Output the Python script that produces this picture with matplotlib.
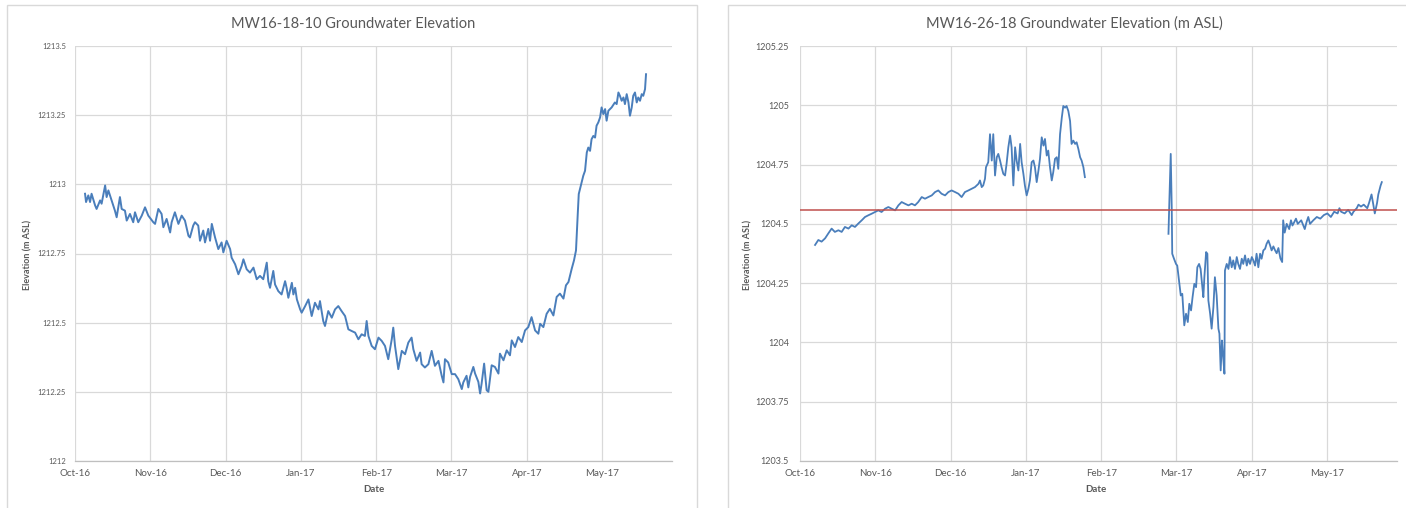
import numpy as np
import matplotlib
matplotlib.use("Agg")
import matplotlib.pyplot as plt
import matplotlib.ticker as mticker
from matplotlib.patches import Rectangle

plt.rcParams['font.family'] = ['Lato', 'DejaVu Sans']

# logger records, x = days after 5 Oct 2016
START = np.datetime64('2016-10-05')
AXIS_DAYS = 238
TICK_STEP = 30

# MW16-18-10
days_1810 = [
    4.0, 4.4, 5.3, 6.0, 6.6, 8.0, 8.6, 10.0, 10.6, 12.0,
    12.6, 13.3, 14.6, 15.9, 16.6, 17.9, 18.6, 19.9, 20.6, 21.9,
    23.2, 23.9, 25.2, 26.6, 27.9, 29.2, 31.2, 31.9, 33.2, 34.5,
    35.2, 36.5, 37.9, 38.5, 39.8, 41.2, 42.5, 43.8, 45.2, 45.8,
    47.1, 47.8, 49.1, 49.8, 51.1, 51.8, 53.1, 53.8, 54.5, 55.8,
    57.1, 58.4, 59.1, 60.4, 61.8, 62.4, 63.8, 65.1, 66.4, 67.1,
    68.4, 69.7, 71.1, 72.4, 73.7, 75.0, 76.4, 77.0, 77.7, 79.0,
    79.7, 81.0, 82.3, 83.7, 84.3, 85.0, 86.4, 87.0, 87.7, 88.4,
    89.7, 90.3, 91.7, 93.0, 94.3, 95.6, 97.0, 97.6, 98.9, 99.6,
    100.9, 102.3, 103.6, 104.9, 106.2, 107.6, 108.9, 110.2, 111.6, 112.9,
    114.2, 115.5, 116.2, 116.9, 118.2, 119.5, 120.9, 122.2, 123.5, 124.8,
    126.2, 126.8, 127.5, 128.8, 130.2, 131.5, 132.8, 134.1, 134.8, 136.1,
    137.5, 138.1, 139.4, 140.8, 142.1, 143.4, 144.8, 146.1, 146.8, 147.4,
    148.7, 150.1, 151.4, 152.7, 154.1, 154.7, 156.0, 156.7, 157.4, 158.7,
    159.4, 160.7, 161.4, 162.0, 163.0, 164.0, 164.7, 166.0, 167.3, 168.7,
    169.3, 170.7, 172.0, 173.3, 174.0, 175.3, 176.6, 178.0, 179.3, 180.6,
    181.9, 183.3, 184.6, 185.3, 186.6, 187.9, 189.2, 190.6, 191.9, 193.2,
    194.6, 195.6, 196.6, 197.9, 198.8, 199.6, 199.9, 200.3, 200.7, 201.2,
    201.9, 202.5, 203.2, 203.9, 204.5, 205.2, 205.8, 206.5, 207.2, 207.8,
    208.5, 209.2, 209.8, 210.5, 211.2, 211.8, 212.5, 213.8, 215.1, 215.8,
    216.5, 217.1, 217.8, 218.5, 219.1, 219.8, 220.5, 221.1, 221.8, 222.4,
    223.1, 223.8, 224.4, 225.1, 225.8, 226.4, 227.1, 227.5,
]
elev_1810 = [
    1212.966, 1212.936, 1212.960, 1212.936, 1212.966, 1212.924, 1212.911, 1212.942, 1212.930, 1212.996,
    1212.954, 1212.978, 1212.942, 1212.905, 1212.881, 1212.954, 1212.911, 1212.905, 1212.869, 1212.893,
    1212.863, 1212.899, 1212.863, 1212.887, 1212.917, 1212.887, 1212.863, 1212.857, 1212.911, 1212.893,
    1212.845, 1212.875, 1212.826, 1212.863, 1212.899, 1212.857, 1212.887, 1212.869, 1212.814, 1212.808,
    1212.851, 1212.863, 1212.851, 1212.796, 1212.833, 1212.790, 1212.839, 1212.796, 1212.857, 1212.808,
    1212.766, 1212.790, 1212.754, 1212.796, 1212.766, 1212.735, 1212.711, 1212.675, 1212.705, 1212.729,
    1212.693, 1212.681, 1212.699, 1212.657, 1212.669, 1212.657, 1212.717, 1212.650, 1212.626, 1212.687,
    1212.638, 1212.614, 1212.602, 1212.650, 1212.626, 1212.590, 1212.644, 1212.602, 1212.626, 1212.584,
    1212.548, 1212.536, 1212.560, 1212.584, 1212.524, 1212.572, 1212.548, 1212.578, 1212.506, 1212.488,
    1212.542, 1212.518, 1212.548, 1212.560, 1212.542, 1212.524, 1212.476, 1212.470, 1212.464, 1212.440,
    1212.458, 1212.452, 1212.506, 1212.452, 1212.416, 1212.404, 1212.446, 1212.434, 1212.416, 1212.368,
    1212.440, 1212.482, 1212.416, 1212.332, 1212.398, 1212.386, 1212.428, 1212.446, 1212.404, 1212.362,
    1212.392, 1212.350, 1212.338, 1212.350, 1212.398, 1212.344, 1212.362, 1212.308, 1212.284, 1212.368,
    1212.356, 1212.314, 1212.314, 1212.296, 1212.260, 1212.284, 1212.308, 1212.266, 1212.304, 1212.340,
    1212.316, 1212.286, 1212.244, 1212.280, 1212.352, 1212.256, 1212.250, 1212.346, 1212.340, 1212.316,
    1212.388, 1212.364, 1212.400, 1212.382, 1212.436, 1212.412, 1212.448, 1212.430, 1212.472, 1212.484,
    1212.520, 1212.472, 1212.460, 1212.496, 1212.484, 1212.532, 1212.550, 1212.526, 1212.593, 1212.605,
    1212.587, 1212.635, 1212.647, 1212.695, 1212.725, 1212.761, 1212.821, 1212.893, 1212.965, 1212.983,
    1213.007, 1213.031, 1213.049, 1213.115, 1213.133, 1213.121, 1213.163, 1213.175, 1213.169, 1213.212,
    1213.224, 1213.242, 1213.278, 1213.254, 1213.272, 1213.230, 1213.266, 1213.278, 1213.296, 1213.290,
    1213.332, 1213.320, 1213.302, 1213.314, 1213.290, 1213.326, 1213.296, 1213.248, 1213.278, 1213.320,
    1213.332, 1213.296, 1213.314, 1213.302, 1213.326, 1213.320, 1213.344, 1213.398,
]

# MW16-26-18, first run (before the logger gap)
days_2618_a = [
    6.0, 7.3, 8.6, 10.0, 11.3, 12.6, 13.9, 15.3, 16.6, 17.9,
    19.3, 20.6, 21.9, 23.2, 24.6, 25.9, 27.2, 28.6, 29.9, 31.2,
    32.5, 33.9, 35.2, 36.5, 37.9, 39.2, 40.5, 41.8, 43.2, 44.5,
    45.8, 47.1, 48.5, 49.8, 51.1, 52.5, 53.8, 55.1, 56.4, 57.8,
    59.1, 60.4, 61.8, 63.1, 64.4, 65.7, 67.1, 68.4, 69.7, 71.1,
    71.7, 72.4, 73.0, 73.7, 74.1, 75.0, 75.7, 76.4, 77.0, 77.7,
    78.4, 79.0, 79.7, 80.3, 81.0, 81.7, 82.3, 83.0, 83.7, 84.3,
    85.0, 85.7, 86.3, 87.0, 87.7, 88.3, 89.0, 89.6, 90.3, 91.0,
    91.6, 92.3, 93.0, 93.6, 94.3, 95.0, 95.6, 96.3, 97.0, 97.6,
    98.3, 98.9, 99.6, 100.3, 100.9, 101.6, 102.3, 102.9, 103.6, 104.3,
    104.9, 105.6, 106.2, 106.9, 107.6, 108.2, 108.9, 109.6, 110.2, 110.9,
    111.6, 112.2, 112.9, 113.5,
]
elev_2618_a = [
    1204.411, 1204.432, 1204.425, 1204.439, 1204.460, 1204.480, 1204.466, 1204.473, 1204.466, 1204.487,
    1204.480, 1204.494, 1204.487, 1204.501, 1204.515, 1204.529, 1204.536, 1204.543, 1204.550, 1204.557,
    1204.550, 1204.564, 1204.571, 1204.564, 1204.557, 1204.578, 1204.592, 1204.585, 1204.578, 1204.585,
    1204.578, 1204.592, 1204.613, 1204.606, 1204.613, 1204.620, 1204.634, 1204.641, 1204.627, 1204.620,
    1204.634, 1204.641, 1204.634, 1204.627, 1204.613, 1204.634, 1204.641, 1204.648, 1204.655, 1204.669,
    1204.683, 1204.655, 1204.662, 1204.690, 1204.739, 1204.760, 1204.878, 1204.767, 1204.878, 1204.704,
    1204.781, 1204.795, 1204.767, 1204.739, 1204.711, 1204.704, 1204.753, 1204.823, 1204.872, 1204.823,
    1204.662, 1204.823, 1204.767, 1204.725, 1204.837, 1204.760, 1204.711, 1204.662, 1204.620, 1204.648,
    1204.683, 1204.760, 1204.767, 1204.739, 1204.676, 1204.725, 1204.774, 1204.865, 1204.830, 1204.858,
    1204.788, 1204.809, 1204.739, 1204.683, 1204.718, 1204.774, 1204.781, 1204.732, 1204.878, 1204.948,
    1204.997, 1204.990, 1204.997, 1204.976, 1204.934, 1204.837, 1204.851, 1204.837, 1204.844, 1204.816,
    1204.781, 1204.767, 1204.739, 1204.697,
]

# MW16-26-18, second run
days_2618_b = [
    146.8, 147.2, 147.7, 148.1, 148.3, 149.0, 149.8, 150.3, 151.0, 151.7,
    152.3, 153.1, 153.8, 154.5, 155.1, 155.8, 156.4, 157.1, 157.8, 158.3,
    159.0, 159.6, 160.3, 160.7, 161.1, 161.8, 162.3, 162.7, 163.4, 164.0,
    164.7, 165.3, 166.0, 166.7, 167.1, 167.6, 168.1, 168.5, 169.1, 169.3,
    170.0, 170.7, 171.3, 172.0, 172.6, 173.3, 174.0, 174.6, 175.3, 176.0,
    176.6, 177.3, 178.0, 178.6, 179.3, 180.0, 180.6, 181.3, 181.9, 182.6,
    183.3, 183.9, 184.6, 185.3, 185.9, 186.6, 187.3, 187.9, 188.6, 189.2,
    189.9, 190.6, 191.4, 192.1, 192.5, 193.1, 193.9, 194.9, 195.6, 196.2,
    196.9, 197.6, 198.3, 199.7, 201.1, 201.8, 202.5, 203.2, 204.5, 205.9,
    207.3, 208.7, 210.1, 211.5, 212.8, 214.2, 214.9, 215.6, 217.0, 218.4,
    219.8, 220.5, 221.8, 222.5, 223.5, 224.6, 226.0, 226.7, 227.7, 228.3,
    229.0, 229.9, 230.4, 231.3, 231.8,
]
elev_2618_b = [
    1204.458, 1204.612, 1204.795, 1204.570, 1204.374, 1204.353, 1204.331, 1204.324, 1204.261, 1204.198,
    1204.205, 1204.072, 1204.121, 1204.086, 1204.163, 1204.135, 1204.191, 1204.247, 1204.233, 1204.317,
    1204.331, 1204.310, 1204.233, 1204.191, 1204.275, 1204.381, 1204.374, 1204.177, 1204.121, 1204.058,
    1204.149, 1204.275, 1204.198, 1204.058, 1204.037, 1203.882, 1204.008, 1203.952, 1203.868, 1204.303,
    1204.331, 1204.310, 1204.360, 1204.317, 1204.346, 1204.310, 1204.360, 1204.331, 1204.310, 1204.353,
    1204.331, 1204.367, 1204.324, 1204.353, 1204.331, 1204.360, 1204.346, 1204.324, 1204.374, 1204.317,
    1204.374, 1204.353, 1204.388, 1204.395, 1204.416, 1204.430, 1204.409, 1204.388, 1204.405, 1204.390,
    1204.376, 1204.398, 1204.354, 1204.339, 1204.515, 1204.463, 1204.500, 1204.478, 1204.515, 1204.493,
    1204.507, 1204.522, 1204.500, 1204.515, 1204.478, 1204.507, 1204.529, 1204.500, 1204.515, 1204.529,
    1204.522, 1204.537, 1204.544, 1204.529, 1204.551, 1204.544, 1204.566, 1204.551, 1204.544, 1204.559,
    1204.537, 1204.551, 1204.566, 1204.581, 1204.573, 1204.581, 1204.566, 1204.588, 1204.624, 1204.588,
    1204.544, 1204.588, 1204.624, 1204.661, 1204.676,
]

threshold_2618 = 1204.56

ylim_1810 = (1212.0, 1213.5)
ylim_2618 = (1203.5, 1205.25)
ystep = 0.25

LINE = '#4a7ebb'
RED = '#c0504d'
GRID = '#d9d9d9'
TXT = '#595959'


def to_dates(days):
    secs = np.round(np.asarray(days) * 86400).astype('timedelta64[s]')
    return START.astype('datetime64[s]') + secs


W, H = 1406, 508
fig = plt.figure(figsize=(W / 100, H / 100), dpi=100)
fig.patch.set_facecolor('white')

# chart frames
for x0, x1 in [(7, 697), (728, 1420)]:
    fig.add_artist(Rectangle((x0 / W, -0.02), (x1 - x0) / W, 1 - 5 / H + 0.02,
                             transform=fig.transFigure, fill=False,
                             edgecolor=GRID, lw=1.0))


def style_axis(ax, ylim, ysize, ypad):
    xt = to_dates(np.arange(0, AXIS_DAYS, TICK_STEP))
    ax.set_xlim(to_dates([0])[0], to_dates([AXIS_DAYS])[0])
    ax.set_xticks(xt)
    labels = [np.datetime64(d, 'D').astype(object).strftime('%b-%y') for d in xt]
    ax.set_xticklabels(labels)
    ax.set_ylim(*ylim)
    ax.set_yticks(np.arange(ylim[0], ylim[1] + 1e-9, ystep))
    ax.yaxis.set_major_formatter(mticker.FuncFormatter(lambda v, p: f'{v:g}'))
    ax.grid(True, color=GRID, lw=0.9)
    ax.set_axisbelow(True)
    for s in ['top', 'right', 'left']:
        ax.spines[s].set_visible(False)
    ax.spines['bottom'].set_color('#bfbfbf')
    ax.spines['bottom'].set_linewidth(0.9)
    ax.tick_params(axis='x', length=0, pad=6, labelsize=7, labelcolor=TXT)
    ax.tick_params(axis='y', length=0, pad=ypad, labelsize=ysize, labelcolor=TXT)


ax_w = (AXIS_DAYS / TICK_STEP) * 75.3 / W
ax_b = (H - 461) / H
ax_h = 415 / H

ax1 = fig.add_axes([75 / W, ax_b, ax_w, ax_h])
ax1.plot(to_dates(days_1810), elev_1810, color=LINE, lw=1.4)
style_axis(ax1, ylim_1810, 5.5, 6.5)

ax2 = fig.add_axes([800 / W, ax_b, ax_w, ax_h])
ax2.plot(to_dates(days_2618_a), elev_2618_a, color=LINE, lw=1.3)
ax2.plot(to_dates(days_2618_b), elev_2618_b, color=LINE, lw=1.3)
ax2.axhline(threshold_2618, color=RED, lw=1.1)
style_axis(ax2, ylim_2618, 6.5, 8)

# titles and axis titles
fig.text(353 / W, 1 - 24 / H, 'MW16-18-10 Groundwater Elevation',
         ha='center', va='center', fontsize=10.5, color=TXT)
fig.text(1074 / W, 1 - 24 / H, 'MW16-26-18 Groundwater Elevation (m ASL)',
         ha='center', va='center', fontsize=10.5, color=TXT)
for x in (28, 748):
    fig.text(x / W, 1 - 255 / H, 'Elevation (m ASL)', rotation=90,
             ha='center', va='center', fontsize=6.5, fontweight='bold', color=TXT)
for x in (374, 1096):
    fig.text(x / W, 1 - 489 / H, 'Date', ha='center', va='center',
             fontsize=7, fontweight='bold', color=TXT)

fig.savefig('out.png', dpi=100, facecolor='white')
